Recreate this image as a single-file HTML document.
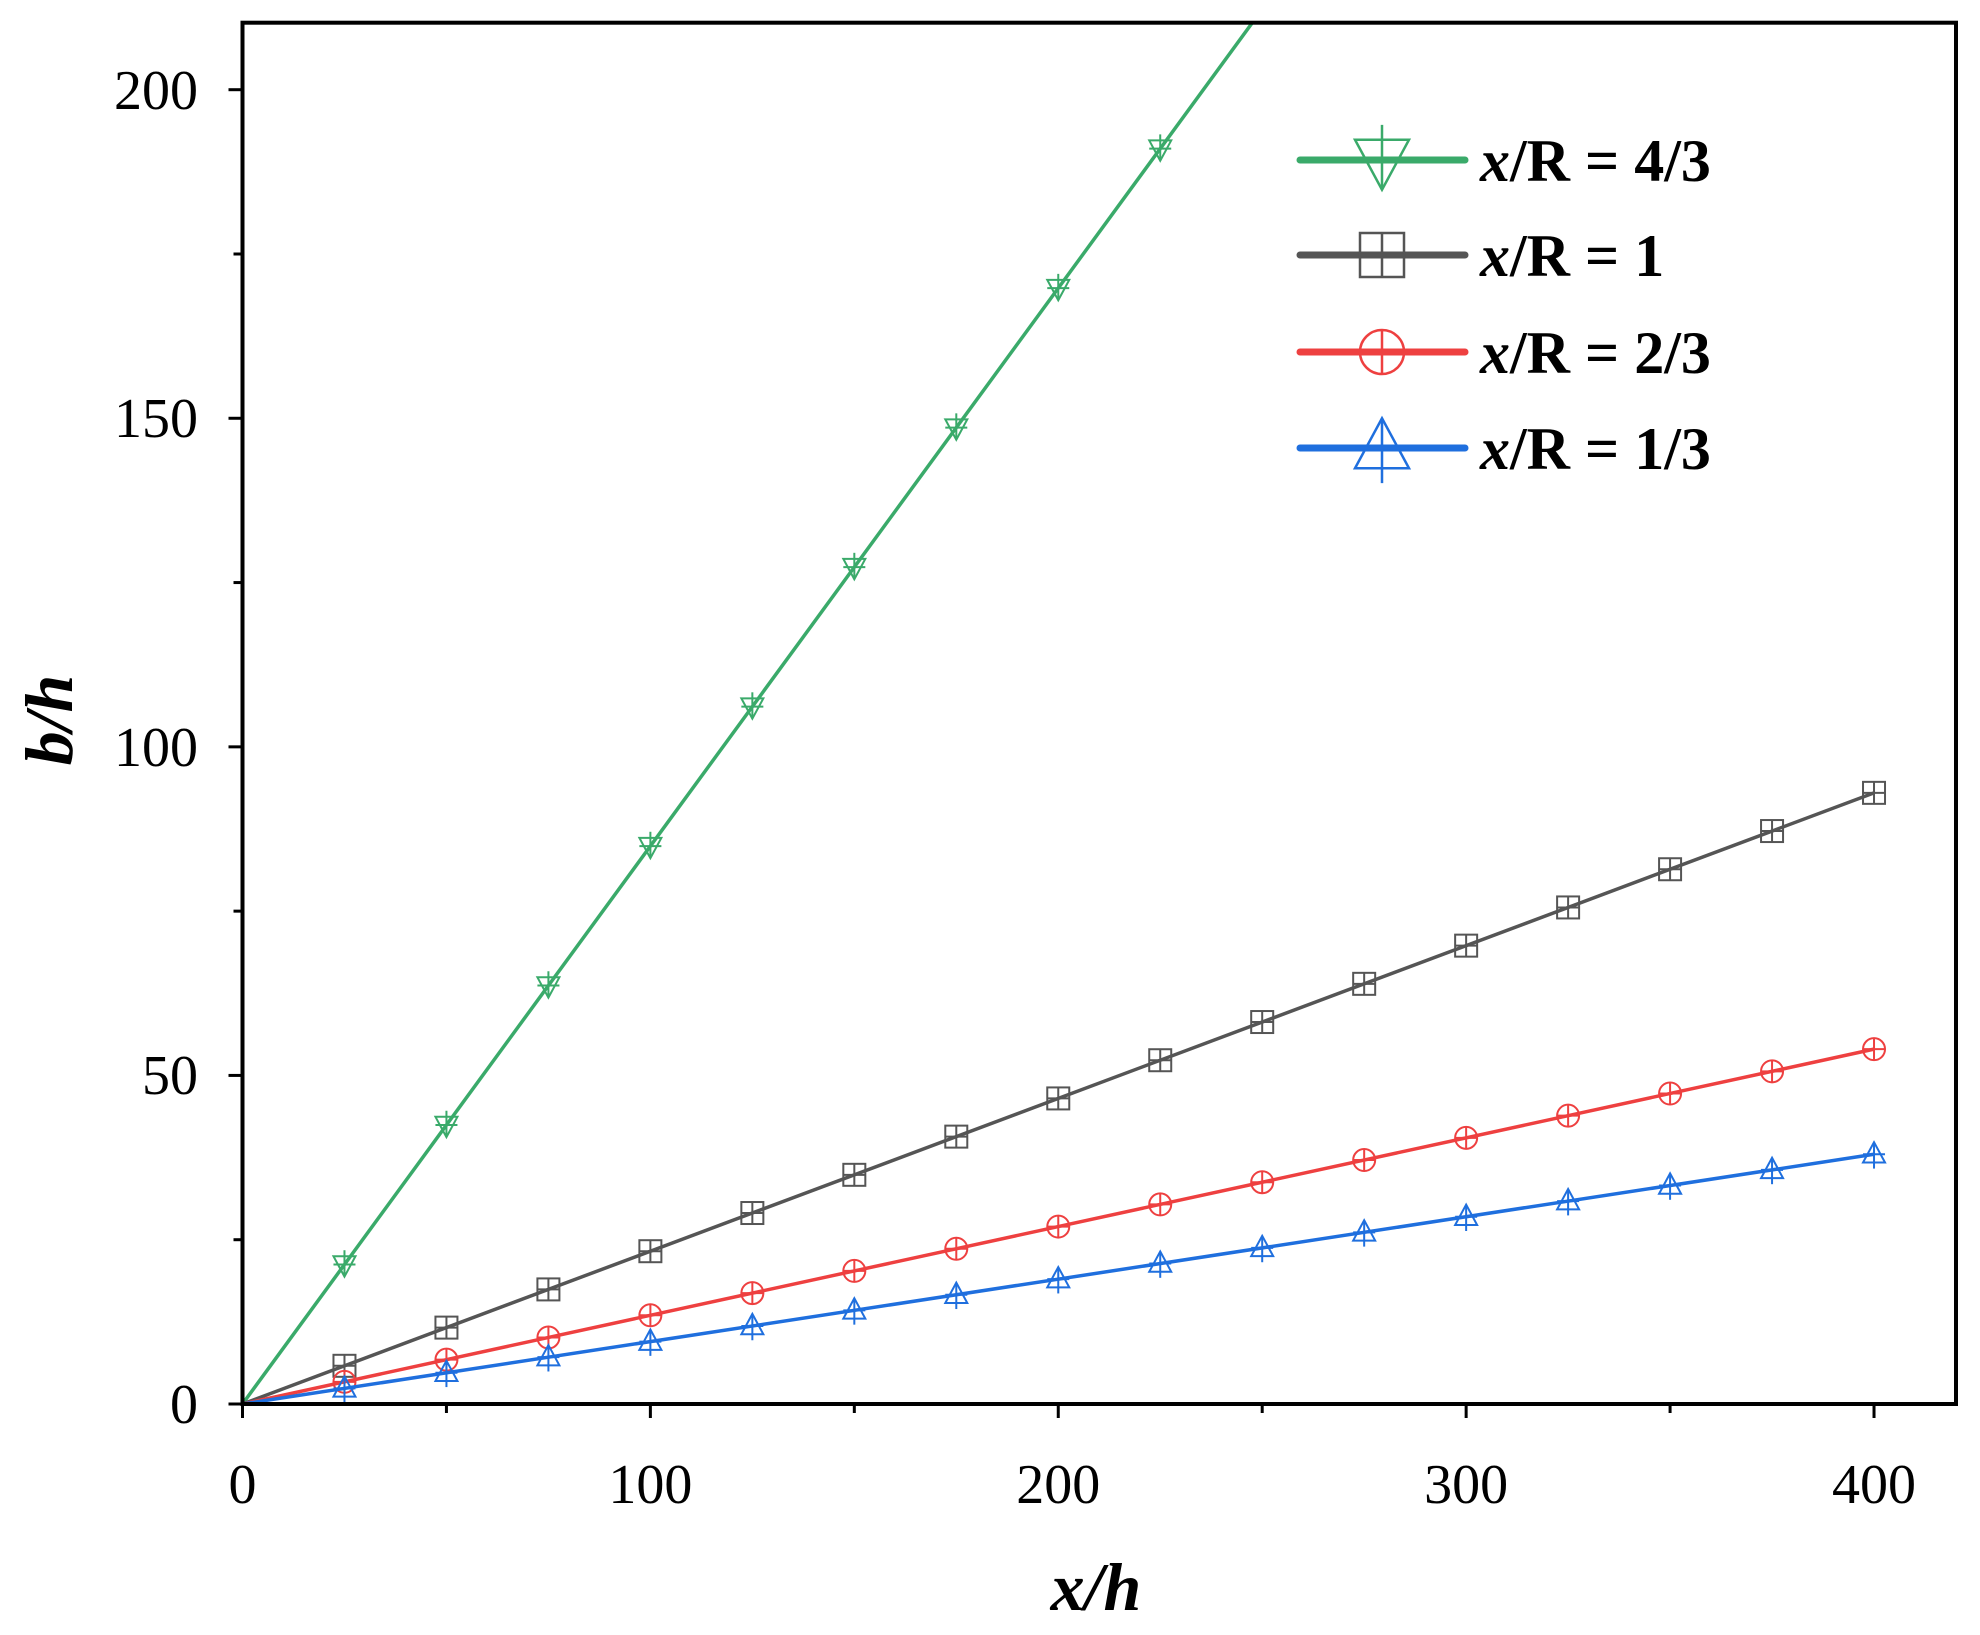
<!DOCTYPE html>
<html><head><meta charset="utf-8"><style>
html,body{margin:0;padding:0;background:#fff;}
svg{display:block;}
text{font-family:"Liberation Serif",serif;}
</style></head><body>
<svg id="s" width="1980" height="1635" viewBox="0 0 1980 1635" xmlns="http://www.w3.org/2000/svg">
<rect x="0" y="0" width="1980" height="1635" fill="#fff"/>
<defs><clipPath id="c"><rect x="242.5" y="22.7" width="1713.5" height="1381.3"/></clipPath></defs>
<g id="series" clip-path="url(#c)"></g>
<rect x="242.5" y="22.7" width="1713.5" height="1381.3" fill="none" stroke="#000" stroke-width="4"/>
<g id="ticks" stroke="#000" stroke-width="3"></g>
<g font-size="56" fill="#000">
<text x="198" y="1423" text-anchor="end">0</text>
<text x="198" y="1094" text-anchor="end">50</text>
<text x="198" y="766" text-anchor="end">100</text>
<text x="198" y="437" text-anchor="end">150</text>
<text x="198" y="109" text-anchor="end">200</text>
<text x="242.5" y="1503" text-anchor="middle">0</text>
<text x="650.4" y="1503" text-anchor="middle">100</text>
<text x="1058.3" y="1503" text-anchor="middle">200</text>
<text x="1466.1" y="1503" text-anchor="middle">300</text>
<text x="1874" y="1503" text-anchor="middle">400</text>
</g>
<text x="1096" y="1610" text-anchor="middle" font-size="68" font-weight="bold" font-style="italic">x/h</text>
<text transform="translate(72,720) rotate(-90)" text-anchor="middle" font-size="68" font-weight="bold" font-style="italic">b/h</text>
<g id="legend"></g>
<g font-size="60" font-weight="bold" fill="#000">
<text x="1480" y="181"><tspan font-style="italic">x</tspan>/R = 4/3</text>
<text x="1480" y="276"><tspan font-style="italic">x</tspan>/R = 1</text>
<text x="1480" y="373"><tspan font-style="italic">x</tspan>/R = 2/3</text>
<text x="1480" y="469"><tspan font-style="italic">x</tspan>/R = 1/3</text>
</g>
</svg>
<script>
var NS="http://www.w3.org/2000/svg";
function X(v){return 242.5+v*4.0788;}
function Y(v){return 1404-v*6.5715;}
function el(p,n,a){var e=document.createElementNS(NS,n);for(var k in a)e.setAttribute(k,a[k]);p.appendChild(e);return e;}
var T=document.getElementById('ticks');
for(var v=0;v<=400;v+=50){var l=v%100==0?14:9;el(T,'line',{x1:X(v),x2:X(v),y1:1404,y2:1404+l});}
for(var v=0;v<=200;v+=25){var l=v%50==0?14:9;el(T,'line',{x1:242.5,x2:242.5-l,y1:Y(v),y2:Y(v)});}
function marker(g,type,cx,cy,col,r,sw){
 var a={fill:'none',stroke:col,'stroke-width':sw};
 if(type=='down'){el(g,'polygon',Object.assign({points:(cx-r)+','+(cy-r*0.75)+' '+(cx+r)+','+(cy-r*0.75)+' '+cx+','+(cy+r*1.1)},a));el(g,'line',Object.assign({x1:cx,x2:cx,y1:cy-r*1.3,y2:cy+r*1.1},a));el(g,'line',Object.assign({x1:cx-r,x2:cx+r,y1:cy,y2:cy},a));}
 if(type=='sq'){el(g,'rect',Object.assign({x:cx-r,y:cy-r,width:2*r,height:2*r},a));el(g,'line',Object.assign({x1:cx,x2:cx,y1:cy-r,y2:cy+r},a));el(g,'line',Object.assign({x1:cx-r,x2:cx+r,y1:cy,y2:cy},a));}
 if(type=='ci'){el(g,'circle',Object.assign({cx:cx,cy:cy,r:r},a));el(g,'line',Object.assign({x1:cx,x2:cx,y1:cy-r,y2:cy+r},a));el(g,'line',Object.assign({x1:cx-r,x2:cx+r,y1:cy,y2:cy},a));}
 if(type=='up'){el(g,'polygon',Object.assign({points:(cx-r)+','+(cy+r*0.75)+' '+(cx+r)+','+(cy+r*0.75)+' '+cx+','+(cy-r*1.1)},a));el(g,'line',Object.assign({x1:cx,x2:cx,y1:cy+r*1.3,y2:cy-r*1.1},a));el(g,'line',Object.assign({x1:cx-r,x2:cx+r,y1:cy,y2:cy},a));}
}
var S=document.getElementById('series');
var ser=[['#3aaa6a',0.849,'down',225],['#555555',0.2325,'sq',400],['#ee4040',0.135,'ci',400],['#1f6fde',0.095,'up',400]];
ser.forEach(function(s){
 var xe=s[0]=='#3aaa6a'?260:400;
 el(S,'line',{x1:X(0),y1:Y(0),x2:X(xe),y2:Y(xe*s[1]),stroke:s[0],'stroke-width':3.5});
 for(var v=25;v<=s[3];v+=25)marker(S,s[2],X(v),Y(v*s[1]),s[0],11,2);
});
var L=document.getElementById('legend');
var ly=[160,255,352,448];
ser.forEach(function(s,i){
 el(L,'line',{x1:1300,x2:1465,y1:ly[i],y2:ly[i],stroke:s[0],'stroke-width':7,'stroke-linecap':'round'});
 marker(L,s[2],1382,ly[i],s[0],s[2]=='sq'||s[2]=='ci'?22:27,2.5);
});
</script>
</body></html>
